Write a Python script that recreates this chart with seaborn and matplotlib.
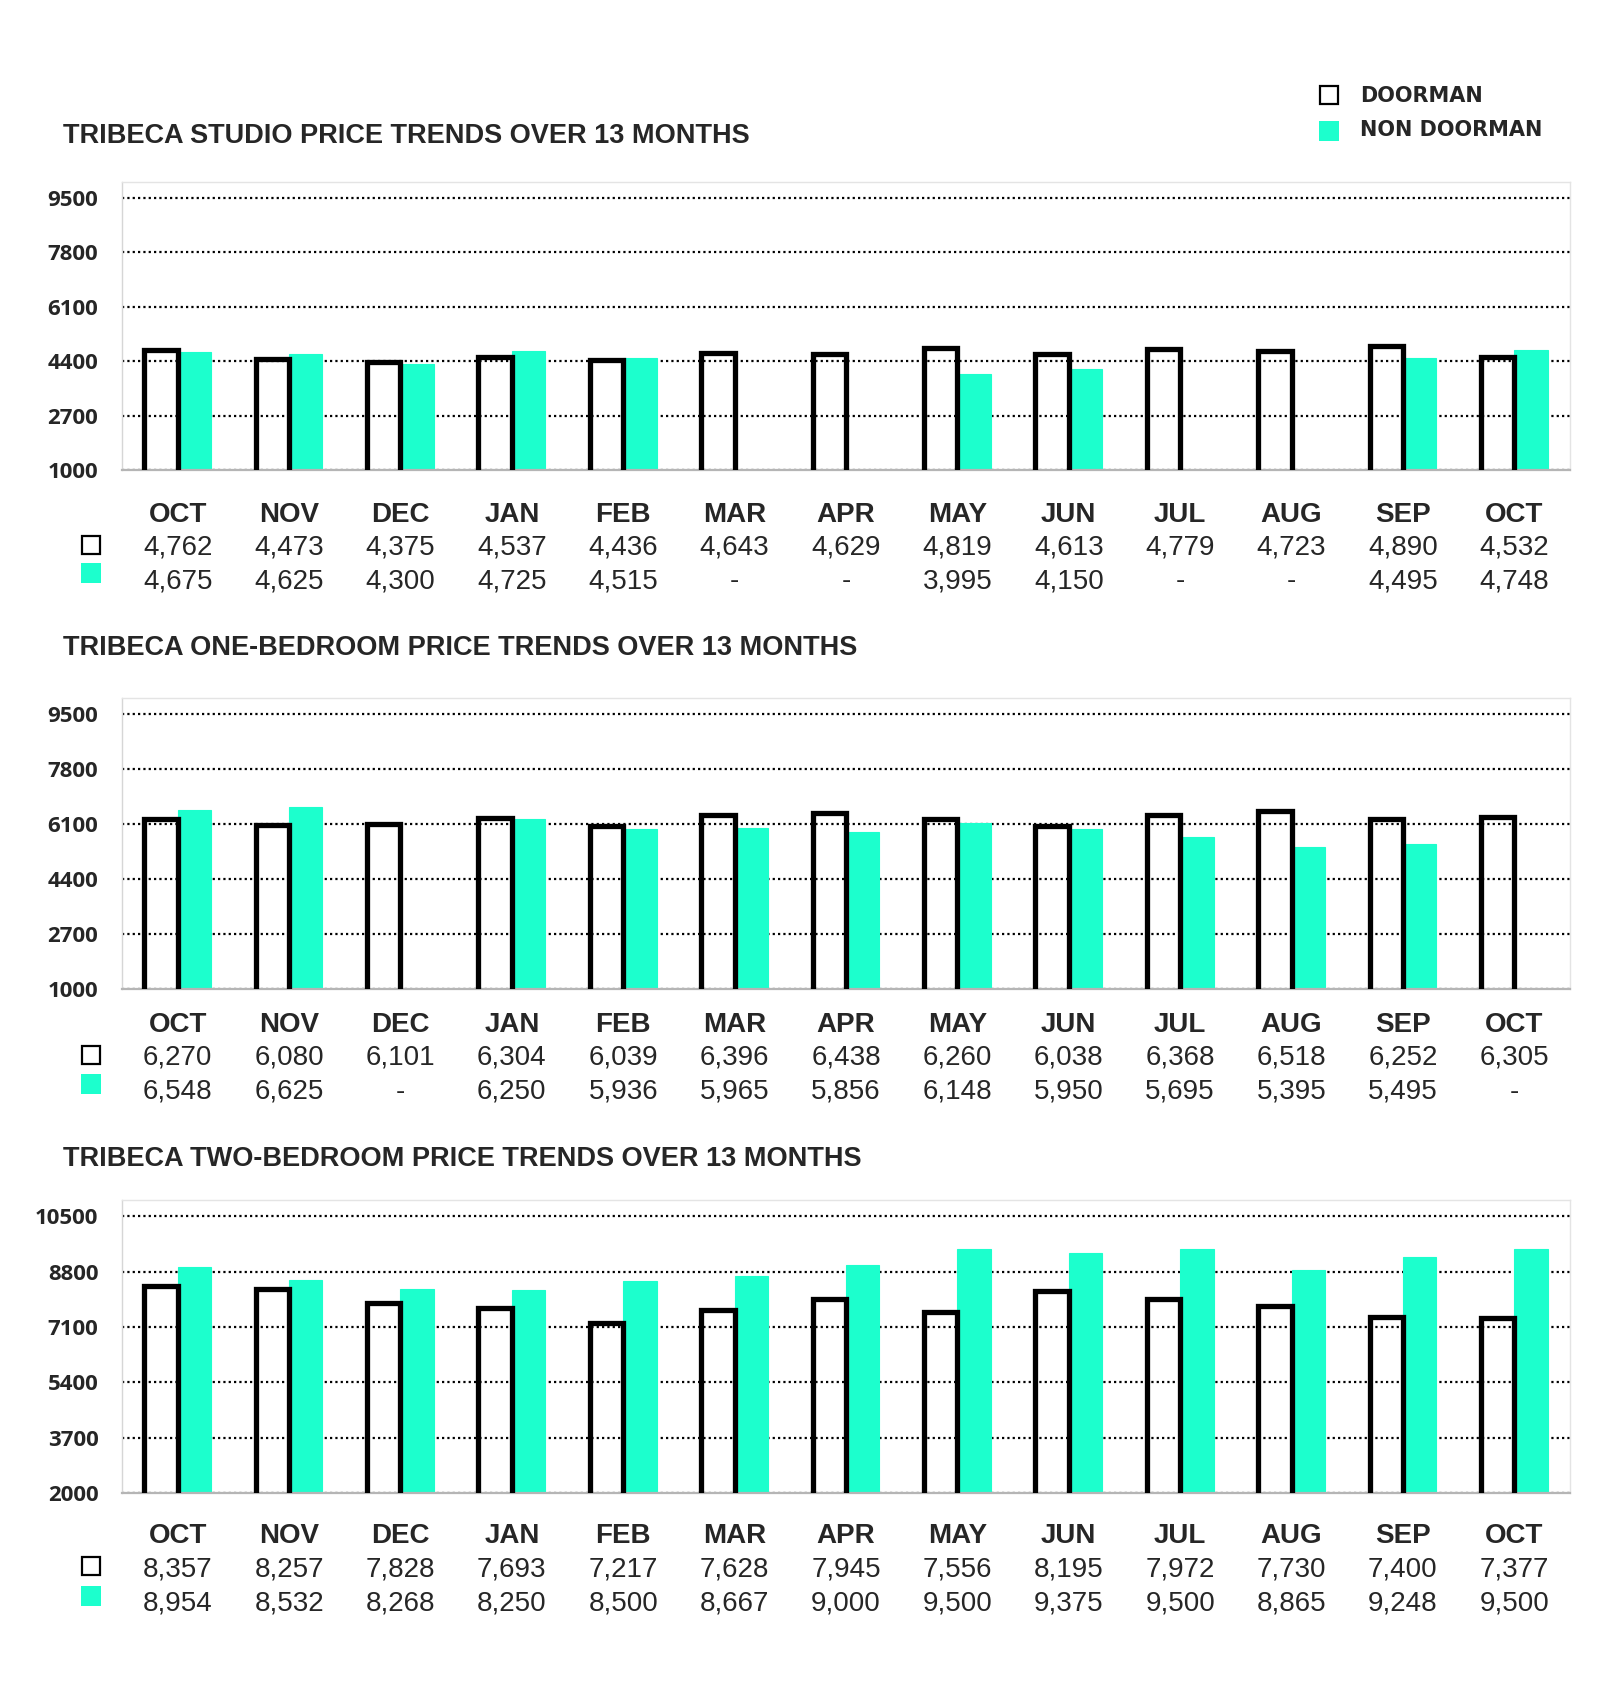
import pandas as pd
import matplotlib
matplotlib.use("Agg")
import matplotlib.pyplot as plt
import seaborn as sns
from matplotlib.patches import Rectangle

# Data
months = ["OCT", "NOV", "DEC", "JAN", "FEB", "MAR", "APR", "MAY", "JUN", "JUL", "AUG", "SEP", "OCT"]

studio_doorman = [4762, 4473, 4375, 4537, 4436, 4643, 4629, 4819, 4613, 4779, 4723, 4890, 4532]
studio_non = [4675, 4625, 4300, 4725, 4515, None, None, 3995, 4150, None, None, 4495, 4748]

onebed_doorman = [6270, 6080, 6101, 6304, 6039, 6396, 6438, 6260, 6038, 6368, 6518, 6252, 6305]
onebed_non = [6548, 6625, None, 6250, 5936, 5965, 5856, 6148, 5950, 5695, 5395, 5495, None]

twobed_doorman = [8357, 8257, 7828, 7693, 7217, 7628, 7945, 7556, 8195, 7972, 7730, 7400, 7377]
twobed_non = [8954, 8532, 8268, 8250, 8500, 8667, 9000, 9500, 9375, 9500, 8865, 9248, 9500]

titles = ["TRIBECA STUDIO PRICE TRENDS OVER 13 MONTHS",
          "TRIBECA ONE-BEDROOM PRICE TRENDS OVER 13 MONTHS",
          "TRIBECA TWO-BEDROOM PRICE TRENDS OVER 13 MONTHS"]
ticks_low = [1000, 2700, 4400, 6100, 7800, 9500]
ticks_high = [2000, 3700, 5400, 7100, 8800, 10500]

TEAL = "#1CFFCD"
W, H = 1600, 1704

sns.set_style("white")

fig = plt.figure(figsize=(W / 100, H / 100), dpi=100)


def fx(x):
    return x / W


def fy(y):
    return 1 - y / H


def fmt(v):
    return "-" if v is None else f"{v:,}"


def draw_panel(top, bottom, title_y, rows_off, doorman, non, ticks, ymax, title):
    ax = fig.add_axes([fx(122), fy(bottom), fx(1570) - fx(122), (bottom - top) / H])
    df = pd.DataFrame({
        "idx": list(range(13)) * 2,
        "type": ["DOORMAN"] * 13 + ["NON DOORMAN"] * 13,
        "price": doorman + non,
    })
    # missing months show as a flat line on the baseline
    df["price"] = df["price"].astype(float).fillna(ticks[0])
    sns.barplot(data=df, x="idx", y="price", hue="type", order=list(range(13)),
                hue_order=["DOORMAN", "NON DOORMAN"],
                palette={"DOORMAN": "white", "NON DOORMAN": TEAL},
                width=0.6, saturation=1, ax=ax, legend=False, errorbar=None)
    for p in ax.containers[0]:
        p.set_facecolor("none")
        p.set_edgecolor("black")
        p.set_linewidth(3.8)
        p.set_zorder(3)
    for p in ax.containers[1]:
        p.set_edgecolor(TEAL)
        p.set_linewidth(0.8)
        p.set_zorder(2)

    ax.set_ylim(ticks[0], ymax)
    ax.set_xlim(-0.5, 12.5)
    ax.set_yticks(ticks)
    ax.set_yticklabels([str(t) for t in ticks], fontfamily="Open Sans",
                       fontweight="bold", fontsize=16)
    ax.tick_params(axis="y", length=0, pad=17)
    ax.set_xticks([])
    ax.set_xticks([i - 0.5 for i in range(14)], minor=True)
    ax.tick_params(axis="x", which="minor", length=8, width=1.2, color="#b5b5b5")
    ax.set_xlabel("")
    ax.set_ylabel("")
    ax.set_axisbelow(True)
    ax.yaxis.grid(True, color="black", linestyle=(0, (1, 1.4)), linewidth=1.6)
    ax.xaxis.grid(False)
    for s in ["top", "right"]:
        ax.spines[s].set_color("#e4e4e4")
        ax.spines[s].set_linewidth(1)
    ax.spines["left"].set_color("#d6d6d6")
    ax.spines["left"].set_linewidth(1)
    ax.spines["bottom"].set_color("#b5b5b5")
    ax.spines["bottom"].set_linewidth(1.6)

    fig.text(fx(63), fy(title_y), title, fontfamily="Liberation Sans",
             fontweight="bold", fontsize=19.5, va="baseline", ha="left")

    # table under the bars
    m_off, r1_off, r2_off = rows_off
    trans = ax.get_xaxis_transform()
    ah = bottom - top
    for i, m in enumerate(months):
        ax.text(i, -m_off / ah, m, transform=trans, ha="center", va="baseline",
                fontfamily="Liberation Sans", fontweight="bold", fontsize=20)
        ax.text(i, -r1_off / ah, fmt(doorman[i]), transform=trans, ha="center",
                va="baseline", fontfamily="Liberation Sans", fontsize=20)
        ax.text(i, -r2_off / ah, fmt(non[i]), transform=trans, ha="center",
                va="baseline", fontfamily="Liberation Sans", fontsize=20)
    fig.add_artist(Rectangle((fx(82), fy(bottom + r1_off - 1)), 18 / W, 18 / H,
                             transform=fig.transFigure, facecolor="white",
                             edgecolor="black", linewidth=1.6))
    fig.add_artist(Rectangle((fx(81), fy(bottom + r2_off - 5)), 20 / W, 20 / H,
                             transform=fig.transFigure, facecolor=TEAL,
                             edgecolor="none"))
    return ax


draw_panel(182, 470, 143, (52, 85, 118), studio_doorman, studio_non,
           ticks_low, 10000, titles[0])
draw_panel(698, 989, 655, (43, 76, 110), onebed_doorman, onebed_non,
           ticks_low, 10000, titles[1])
draw_panel(1200, 1493, 1166, (50, 83, 118), twobed_doorman, twobed_non,
           ticks_high, 11000, titles[2])

# legend, top right
fig.add_artist(Rectangle((fx(1320), fy(104)), 18 / W, 18 / H, transform=fig.transFigure,
                         facecolor="white", edgecolor="black", linewidth=1.6))
fig.add_artist(Rectangle((fx(1319), fy(141)), 20 / W, 20 / H, transform=fig.transFigure,
                         facecolor=TEAL, edgecolor="none"))
fig.text(fx(1360), fy(102), "DOORMAN", fontfamily="DejaVu Sans", fontweight="bold",
         fontsize=15, va="baseline", ha="left")
fig.text(fx(1360), fy(136), "NON DOORMAN", fontfamily="DejaVu Sans", fontweight="bold",
         fontsize=15, va="baseline", ha="left")

fig.savefig("out.png", dpi=100, facecolor="white")
